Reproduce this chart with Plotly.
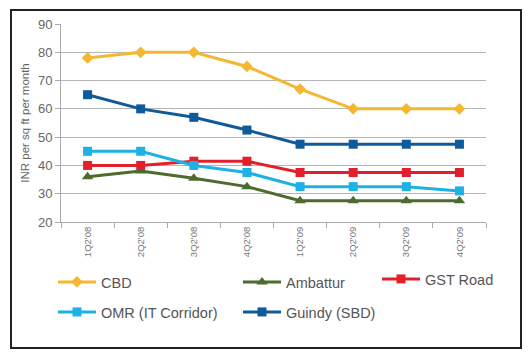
import plotly.graph_objects as go

quarters = ["1Q2'08", "2Q2'08", "3Q2'08", "4Q2'08", "1Q2'09", "2Q2'09", "3Q2'09", "4Q2'09"]
cbd = [78, 80, 80, 75, 67, 60, 60, 60]
ambattur = [36, 38, 35.5, 32.5, 27.5, 27.5, 27.5, 27.5]
gst_road = [40, 40, 41.5, 41.5, 37.5, 37.5, 37.5, 37.5]
omr = [45, 45, 40, 37.5, 32.5, 32.5, 32.5, 31]
guindy = [65, 60, 57, 52.5, 47.5, 47.5, 47.5, 47.5]

FONT = "Liberation Sans, Arial, sans-serif"

series = [
    ("CBD", cbd, "#F4B731", "diamond", 9, "legend"),
    ("Ambattur", ambattur, "#4E6B2E", "triangle-up", 10, "legend2"),
    ("GST Road", gst_road, "#E2202C", "square", 9, "legend3"),
    ("OMR (IT Corridor)", omr, "#1DB1E4", "square", 9, "legend4"),
    ("Guindy (SBD)", guindy, "#0F5A9A", "square", 9, "legend5"),
]

fig = go.Figure()
for name, vals, color, sym, size, lg in series:
    fig.add_trace(go.Scatter(
        x=quarters, y=vals, name=name, mode="lines+markers",
        line=dict(color=color, width=3),
        marker=dict(symbol=sym, size=size, color=color),
        legend=lg,
    ))

W, H = 531, 356
L, R, T, B = 61, 45, 24, 134
pw, ph = W - L - R, H - T - B

def px(x):
    return (x - L) / pw

def py(y):
    return (H - B - y) / ph

legend_pos = {
    "legend": (53, 282),
    "legend2": (238, 282),
    "legend3": (377, 279),
    "legend4": (53, 312),
    "legend5": (238, 312),
}
lay = {}
for k, (lx, ly) in legend_pos.items():
    lay[k] = dict(x=px(lx), y=py(ly),
                  font=dict(family=FONT, size=14.5, color="#555555"),
                  bgcolor="rgba(0,0,0,0)", itemwidth=38,
                  xanchor="left", yanchor="middle")

fig.update_layout(
    width=W, height=H,
    margin=dict(l=L, r=R, t=T, b=B),
    paper_bgcolor="white", plot_bgcolor="white",
    font=dict(family=FONT, color="#666666"),
    showlegend=True,
    **lay,
    xaxis=dict(
        type="category", range=[-0.5, 7.5],
        tickangle=-90, tickfont=dict(size=9.5, color="#777777"),
        showgrid=False, showline=True, linecolor="#aaaaaa", linewidth=1,
        ticks="outside", tickson="boundaries", ticklen=5, tickcolor="#aaaaaa",
        zeroline=False,
    ),
    yaxis=dict(
        range=[20, 90], dtick=10, tick0=20,
        tickfont=dict(size=13, color="#666666"),
        showgrid=True, gridcolor="#b5b5b5", gridwidth=1,
        showline=True, linecolor="#aaaaaa", linewidth=1,
        ticks="outside", ticklen=5, tickcolor="#aaaaaa",
        zeroline=False,
        title=dict(text="INR per sq ft per month", font=dict(size=11.5, color="#666666"), standoff=5),
    ),
    shapes=[dict(type="rect", xref="paper", yref="paper",
                 x0=px(11), x1=px(521), y0=py(348), y1=py(10),
                 line=dict(color="#222222", width=2), layer="below")],
)

fig.write_html("out.html", config={"displayModeBar": False},
               post_script="document.body.style.margin='0';document.body.style.overflow='hidden';")
